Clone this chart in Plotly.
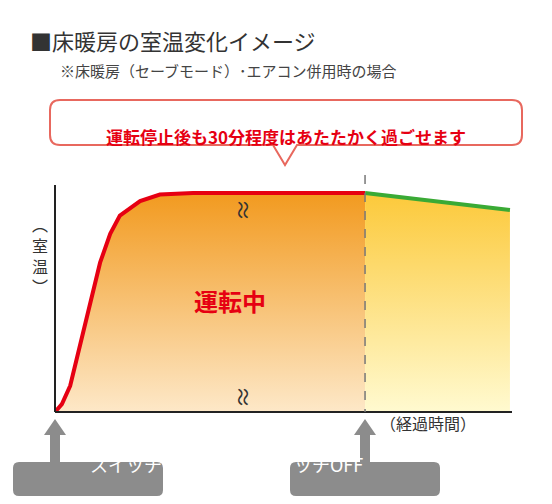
import plotly.graph_objects as go

# data (time 0-100, temperature 0-100)
run_t = [0, 1.5, 3.3, 5.4, 7.6, 9.8, 12, 14.1, 18.5, 22.8, 30, 45, 60, 67.4]
run_temp = [0, 3, 10, 25, 42, 57, 68, 75, 80.5, 83, 83.6, 83.6, 83.6, 83.6]
off_t = [67.4, 98.9]
off_temp = [83.6, 77.1]

OFF = 8  # page body margin
W, H = 552 - 2 * OFF, 504 - 2 * OFF
L, T = 55 - OFF, 150 - OFF
R = W - (515 - OFF)
B = H - (412 - OFF)
def px(x): return (x - OFF - L) / (W - L - R)
def py(y): return (H - B - (y - OFF)) / (H - T - B)

fig = go.Figure()
fig.add_trace(go.Scatter(x=run_t, y=run_temp, mode="lines", line=dict(color="#e60012", width=4),
    fill="tozeroy", fillgradient=dict(type="vertical", colorscale=[[0, "#fde8c8"], [1, "#f29a1f"]])))
fig.add_trace(go.Scatter(x=off_t, y=off_temp, mode="lines", line=dict(color="#3aaa35", width=4),
    fill="tozeroy", fillgradient=dict(type="vertical", colorscale=[[0, "#fffad0"], [1, "#fcc93a"]])))

fig.update_xaxes(range=[0, 100], visible=False)
fig.update_yaxes(range=[0, 100], visible=False)

def rrect(x0, y0, x1, y1, r):
    return (f"M {px(x0+r)},{py(y0)} L {px(x1-r)},{py(y0)} Q {px(x1)},{py(y0)} {px(x1)},{py(y0+r)} "
            f"L {px(x1)},{py(y1-r)} Q {px(x1)},{py(y1)} {px(x1-r)},{py(y1)} L {px(x0+r)},{py(y1)} "
            f"Q {px(x0)},{py(y1)} {px(x0)},{py(y1-r)} L {px(x0)},{py(y0+r)} Q {px(x0)},{py(y0)} {px(x0+r)},{py(y0)} Z")

shapes = [
    dict(type="line", xref="paper", yref="paper", x0=px(55), x1=px(55), y0=py(185), y1=py(412), line=dict(color="#222", width=2)),
    dict(type="line", xref="paper", yref="paper", x0=px(55), x1=px(512), y0=py(412), y1=py(412), line=dict(color="#222", width=2)),
    dict(type="line", xref="x", yref="paper", x0=67.4, x1=67.4, y0=py(175), y1=py(412), line=dict(color="#777", width=1.5, dash="dash")),
    dict(type="path", xref="paper", yref="paper",
         path=f"M {px(60)},{py(100)} L {px(512)},{py(100)} Q {px(522)},{py(100)} {px(522)},{py(110)} L {px(522)},{py(135)} Q {px(522)},{py(145)} {px(512)},{py(145)} "
              f"L {px(297)},{py(145)} L {px(285)},{py(165)} L {px(273)},{py(145)} L {px(60)},{py(145)} Q {px(50)},{py(145)} {px(50)},{py(135)} L {px(50)},{py(110)} Q {px(50)},{py(100)} {px(60)},{py(100)} Z",
         fillcolor="white", line=dict(color="#e8685e", width=2)),
]
for cx in (55, 365):
    shapes.append(dict(type="path", xref="paper", yref="paper",
        path=f"M {px(cx-5)},{py(462)} L {px(cx-5)},{py(435)} L {px(cx-11)},{py(435)} L {px(cx)},{py(419)} L {px(cx+11)},{py(435)} L {px(cx+5)},{py(435)} L {px(cx+5)},{py(462)} Z",
        fillcolor="#8c8c8c", line=dict(width=0)))
for x0, x1 in ((13, 163), (290, 440)):
    shapes.append(dict(type="path", xref="paper", yref="paper", path=rrect(x0, 462, x1, 496, 6),
        fillcolor="#8c8c8c", line=dict(width=0)))

F = "Noto Sans CJK JP"
def ann(x, y, text, size, color="#333", **kw):
    return dict(xref="paper", yref="paper", x=px(x), y=py(y), text=text, showarrow=False,
                font=dict(family=F, size=size, color=color), **kw)
anns = [
    ann(28, 22, "■床暖房の室温変化イメージ", 22, "#333", xanchor="left"),
    ann(58, 58, "※床暖房（セーブモード）･エアコン併用時の場合", 15, "#444", xanchor="left"),
    ann(286, 122, "<b>運転停止後も30分程度はあたたかく過ごせます</b>", 17, "#e60012"),
    ann(230, 300, "<b>運転中</b>", 24, "#e60012"),
    ann(30, 210, "︵<br>室<br>温<br>︶", 16, "#333"),
    ann(478, 437, "（経過時間）", 16, "#333"),
    ann(88, 479, "スイッチON", 18, "white"),
    ann(365, 479, "スイッチOFF", 18, "white"),
    ann(245, 197, "≈", 22, "#333", textangle=90),
    ann(245, 410, "≈", 22, "#333", textangle=90),
]
fig.update_layout(width=W, height=H, margin=dict(l=L, r=R, t=T, b=B), showlegend=False,
                  paper_bgcolor="white", plot_bgcolor="white", shapes=shapes, annotations=anns)
fig.write_html("out.html")
